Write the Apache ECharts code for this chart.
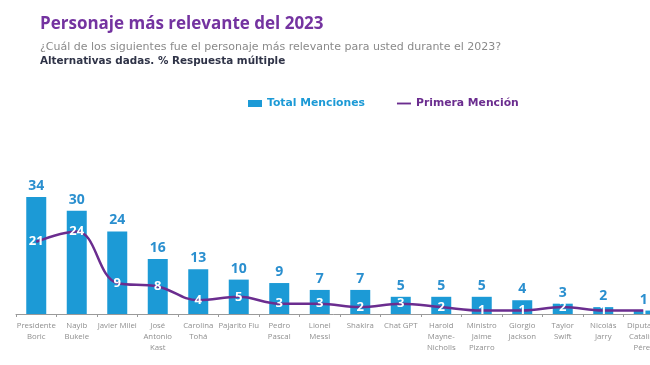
<!DOCTYPE html>
<html><head><meta charset="utf-8">
<script src="https://cdn.jsdelivr.net/npm/echarts@6/dist/echarts.min.js"></script>
<style>html,body{margin:0;padding:0;background:#fff}#c{width:650px;height:365px}</style>
</head><body><div id="c"></div>
<script>
var categories = ["Presidente\nBoric","Nayib\nBukele","Javier Milei","José\nAntonio\nKast","Carolina\nTohá","Pajarito Fiu","Pedro\nPascal","Lionel\nMessi","Shakira","Chat GPT","Harold\nMayne-\nNicholls","Ministro\nJaime\nPizarro","Giorgio\nJackson","Taylor\nSwift","Nicolás\nJarry","Diputada\nCatalina\nPérez"];
var totalMenciones = [34,30,24,16,13,10,9,7,7,5,5,5,4,3,2,1];
var primeraMencion = [21,24,9,8,4,5,3,3,2,3,2,1,1,2,1,1];
var FONT = "'Open Sans', sans-serif";
var WIDE = "'DejaVu Sans', sans-serif";
var chart = echarts.init(document.getElementById('c'));
chart.setOption({
  animation:false,
  backgroundColor:'#fff',
  title:[
    {text:'Personaje más relevante del 2023',left:40,top:16,padding:0,textStyle:{fontFamily:FONT,fontSize:17,fontWeight:'bold',color:'#7433a0'}},
    {text:'¿Cuál de los siguientes fue el personaje más relevante para usted durante el 2023?',left:40,top:42,padding:0,textStyle:{fontFamily:WIDE,fontSize:11,fontWeight:'normal',color:'#8a8a8a'}},
    {text:'Alternativas dadas. % Respuesta múltiple',left:40,top:56,padding:0,textStyle:{fontFamily:WIDE,fontSize:10.4,fontWeight:'bold',color:'#2f3347'}}
  ],
  legend:{
    top:98,left:248,padding:0,itemGap:32,itemWidth:14,itemHeight:7,
    data:[{name:'Total Menciones',icon:'rect',textStyle:{color:'#1c9ad6'}},{name:'Primera Mención',icon:'path://M0,3L15,3L15,5L0,5Z',textStyle:{color:'#6b2d8f'}}],
    textStyle:{fontFamily:WIDE,fontSize:10.8,fontWeight:'bold'}
  },
  grid:{left:16,width:648,top:176.4,bottom:51,outerBoundsMode:'none',containLabel:false},
  xAxis:{
    type:'category',data:categories,
    axisLine:{lineStyle:{color:'#9a9a9a'}},
    axisTick:{show:true,length:3,lineStyle:{color:'#9a9a9a'}},
    axisLabel:{interval:0,fontFamily:FONT,fontSize:7.8,color:'#8f8f8f',lineHeight:11,margin:6}
  },
  yAxis:{type:'value',min:0,max:40,show:false,splitLine:{show:false}},
  series:[
    {name:'Total Menciones',type:'bar',data:totalMenciones,barWidth:20,
     itemStyle:{color:'#1c9ad6'},
     label:{show:true,position:'top',distance:4,fontFamily:FONT,fontSize:14,fontWeight:'bold',color:'#2a8fcf'}},
    {name:'Primera Mención',type:'line',data:primeraMencion,smooth:0.4,symbol:'circle',symbolSize:1,showSymbol:true,z:5,
     lineStyle:{color:'#6b2d8f',width:2.5},itemStyle:{color:'#6b2d8f'},
     label:{show:true,position:'inside',fontFamily:FONT,fontSize:13,fontWeight:'bold',color:'#ffffff'}}
  ]
});
</script></body></html>
